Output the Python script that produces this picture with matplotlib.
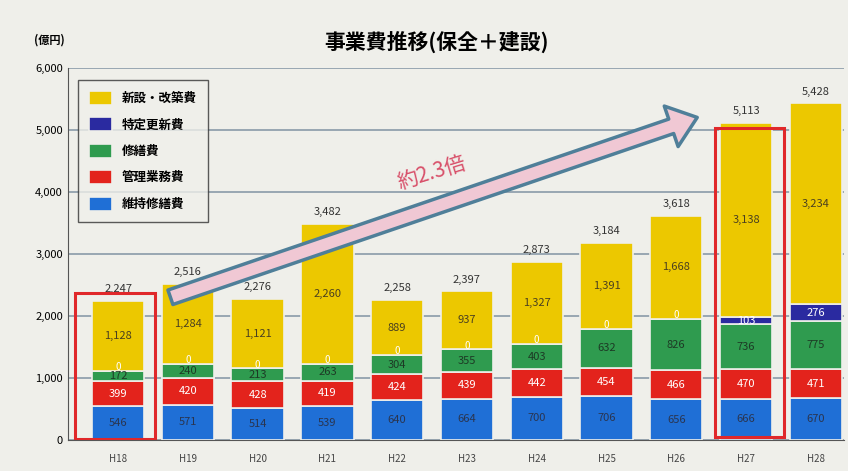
import matplotlib
matplotlib.use("Agg")
from matplotlib import pyplot as plt
from matplotlib.patches import Rectangle
import numpy as np

plt.rcParams['font.family'] = ['Noto Sans CJK JP', 'DejaVu Sans']

years = ['H18', 'H19', 'H20', 'H21', 'H22', 'H23', 'H24', 'H25', 'H26', 'H27', 'H28']
ijisyuzen = [546, 571, 514, 539, 640, 664, 700, 706, 656, 666, 670]     # 維持修繕費
kanri = [399, 420, 428, 419, 424, 439, 442, 454, 466, 470, 471]         # 管理業務費
syuzen = [172, 240, 213, 263, 304, 355, 403, 632, 826, 736, 775]        # 修繕費
tokutei = [0, 0, 0, 0, 0, 0, 0, 0, 0, 103, 276]                         # 特定更新費
shinsetsu = [1128, 1284, 1121, 2260, 889, 937, 1327, 1391, 1668, 3138, 3234]  # 新設・改築費
totals = [2247, 2516, 2276, 3482, 2258, 2397, 2873, 3184, 3618, 5113, 5428]

series = [
	('維持修繕費', ijisyuzen, '#1f6fd6', '#2a3550'),
	('管理業務費', kanri, '#e3231c', 'white'),
	('修繕費', syuzen, '#2f9b4f', '#1d3a25'),
	('特定更新費', tokutei, '#2a2aa0', 'white'),
	('新設・改築費', shinsetsu, '#ecc800', '#4a4020'),
]

fig = plt.figure(figsize=(8.48, 4.71), dpi=100)
fig.patch.set_facecolor('#efefea')
ax = fig.add_axes([0.08, 0.066, 0.915, 0.79])
ax.set_facecolor('#efefea')

x = np.arange(len(years))
bottom = np.zeros(len(years))
handles = []
for name, vals, col, tcol in series:
	vals = np.array(vals, dtype=float)
	b = ax.bar(x, vals, 0.75, bottom=bottom, color=col, edgecolor='#efefea', linewidth=1.2, zorder=3)
	handles.append((b, name))
	for i in range(len(years)):
		if vals[i] > 0:
			ax.text(x[i], bottom[i] + vals[i] / 2, format(int(vals[i]), ','), ha='center', va='center',
				fontsize=8, color=tcol, zorder=5)
		elif name == '特定更新費':
			ax.text(x[i], bottom[i] + 60, '0', ha='center', va='center', fontsize=7, color='white', zorder=5)
	bottom += vals

for i in range(len(years)):
	ax.text(x[i], bottom[i] + 110, format(totals[i], ','), ha='center', va='bottom', fontsize=8, color='#333333')

ax.set_ylim(0, 6000)
ax.set_xlim(-0.72, 10.4)
ax.set_yticks(range(0, 6001, 1000))
ax.set_yticklabels([format(v, ',') for v in range(0, 6001, 1000)], fontsize=8)
ax.set_xticks(x)
ax.set_xticklabels(years, fontsize=7, color='#444444')
ax.tick_params(length=0)
ax.tick_params(axis='x', pad=10)
ax.grid(axis='y', color='#8a9aa8', linewidth=1.2, zorder=0)
for s in ['top', 'right']:
	ax.spines[s].set_visible(False)
ax.spines['left'].set_color('#555555')
ax.spines['bottom'].set_color('#555555')

# red boxes
ax.add_patch(Rectangle((-0.62, 20), 1.15, 2350, fill=False, edgecolor='#e0282a', linewidth=2.2, zorder=6))
ax.add_patch(Rectangle((8.56, 50), 0.98, 4980, fill=False, edgecolor='#e0282a', linewidth=2.2, zorder=6))

# arrow
ax.annotate('', xy=(8.3, 5200), xytext=(0.75, 2300),
	arrowprops=dict(arrowstyle='simple,head_width=1.4,head_length=0.9,tail_width=0.5',
		fc='#f0c8d4', ec='#4f7f99', lw=2.5, mutation_scale=22, shrinkA=0, shrinkB=0), zorder=7)
ax.text(4.5, 4300, '約2.3倍', fontsize=15, color='#d8506a', rotation=17, ha='center', va='center', zorder=8)

leg = ax.legend([h for h, n in handles[::-1]], [n for h, n in handles[::-1]], loc='upper left',
	bbox_to_anchor=(0.005, 0.985), fontsize=9, frameon=True, fancybox=False, edgecolor='#333333',
	handlelength=1.8, handleheight=1.3, borderpad=0.9, labelspacing=1.0)
leg.get_frame().set_facecolor('#efefea')
for t in leg.get_texts():
	t.set_fontweight('bold')

fig.text(0.515, 0.91, '事業費推移(保全＋建設)', ha='center', va='center', fontsize=15, fontweight='bold')
fig.text(0.04, 0.915, '(億円)', ha='left', va='center', fontsize=8, fontweight='bold')

plt.savefig('out.png', dpi=100, facecolor=fig.get_facecolor())
